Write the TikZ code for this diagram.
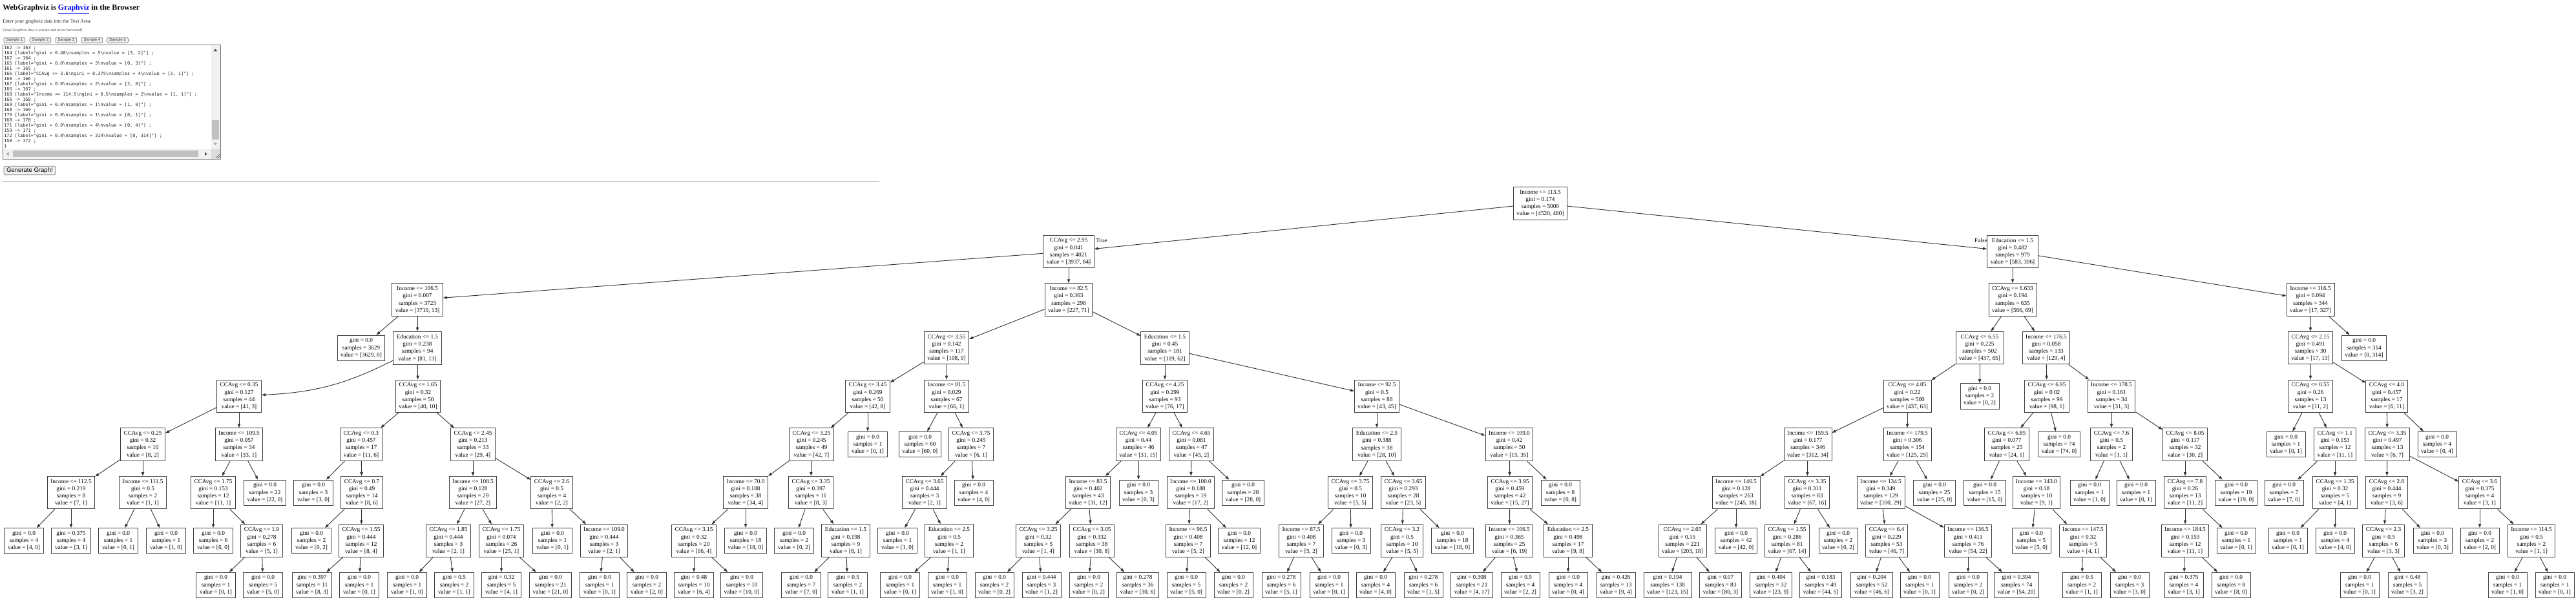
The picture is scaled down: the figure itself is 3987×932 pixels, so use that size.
\documentclass[tikz,border=0pt]{standalone}
\usepackage{fontspec}
\setmainfont{Liberation Serif}
\newfontfamily\uifont{Liberation Sans}
\newfontfamily\codefont{DejaVu Sans Mono}
\usetikzlibrary{arrows.meta}
\definecolor{linkblue}{HTML}{0000EE}
\definecolor{btnfill}{HTML}{EFEFEF}
\definecolor{btnline}{HTML}{767676}
\definecolor{track}{HTML}{F1F1F1}
\definecolor{thumb}{HTML}{C1C1C1}
\definecolor{corner}{HTML}{DCDCDC}
\definecolor{arrdark}{HTML}{505050}
\definecolor{arrlight}{HTML}{A3A3A3}
\definecolor{rulegr}{HTML}{9A9A9A}
\newcommand\treefont{\fontsize{6.58pt}{7.97pt}\selectfont}
\newcommand\bsn{\textbackslash n}
\tikzset{
  tnode/.style={draw=black!75,line width=0.7pt,fill=white,align=center,inner xsep=3.6pt,inner ysep=3.3pt,font=\treefont},
  tleaf/.style={tnode},
  tedge/.style={-{Triangle[length=4.3pt,width=3pt]},black!80,line width=0.65pt},
  elbl/.style={inner sep=0pt,font=\treefont},
  codeln/.style={anchor=base west,inner sep=0pt,black!85,font=\codefont\fontsize{4.9pt}{5.7pt}\selectfont},
  btn/.style={draw=btnline,fill=btnfill,rounded corners=1.5pt,line width=0.5pt,inner sep=0pt,text=black!80,font=\uifont\fontsize{4.3pt}{5pt}\selectfont},
  webtxt/.style={anchor=base west,inner sep=0pt},
}

\begin{document}
\begin{tikzpicture}[x=0.025cm,y=-0.025cm]
  \useasboundingbox (0,0) rectangle (3987,932);
  % page header
  \node[webtxt,font=\fontsize{8.5pt}{10pt}\selectfont\bfseries] (ttl) at (4,15.3) {WebGraphviz is \textcolor{linkblue}{\underline{Graphviz}} in the Browser};
  \node[webtxt,black!85,font=\fontsize{5.53pt}{6.5pt}\selectfont] (intro) at (4,35.5) {Enter your graphviz data into the Text Area:};
  \node[webtxt,black!70,font=\fontsize{4.24pt}{5pt}\selectfont] (note) at (4,48.9) {(Your Graphviz data is private and never harvested)};
  \node[btn,minimum width=8.2mm,minimum height=2.1mm] (s1) at (22.4,62.2) {Sample 1};
  \node[btn,minimum width=8.2mm,minimum height=2.1mm] (s2) at (62.4,62.2) {Sample 2};
  \node[btn,minimum width=8.2mm,minimum height=2.1mm] (s3) at (102.4,62.2) {Sample 3};
  \node[btn,minimum width=8.2mm,minimum height=2.1mm] (s4) at (142.4,62.2) {Sample 4};
  \node[btn,minimum width=8.2mm,minimum height=2.1mm] (s5) at (182,62.2) {Sample 5};
  \draw[btnline,line width=0.7pt,fill=white] (4,69.3) rectangle (341.7,246.7);
  \fill[track] (326.7,70) rectangle (341,230.7);
  \fill[thumb] (328.3,186) rectangle (339.3,216);
  \fill[arrdark] (330.3,79.4) -- (336.3,79.4) -- (333.3,75.7) -- cycle;
  \fill[arrlight] (330.3,221) -- (336.3,221) -- (333.3,224.7) -- cycle;
  \fill[track] (4.7,230.7) rectangle (326.7,246);
  \fill[thumb] (20,233.3) rectangle (306.7,243.3);
  \fill[arrlight] (13.5,235.3) -- (13.5,241.3) -- (10,238.3) -- cycle;
  \fill[arrdark] (317,235.3) -- (317,241.3) -- (320.5,238.3) -- cycle;
  \fill[corner] (326.7,230.7) rectangle (341,246);
  \draw[arrdark,line width=0.3pt] (334,245) -- (340,239) (337,245) -- (340,242);
  \node[codeln] (c1) at (6,76.7) {162 -> 163 ;};
  \node[codeln] (c2) at (6,84.7) {164 [label="gini = 0.48\bsn samples = 5\bsn value = [3, 2]"] ;};
  \node[codeln] (c3) at (6,92.7) {162 -> 164 ;};
  \node[codeln] (c4) at (6,100.7) {165 [label="gini = 0.0\bsn samples = 3\bsn value = [0, 3]"] ;};
  \node[codeln] (c5) at (6,108.7) {161 -> 165 ;};
  \node[codeln] (c6) at (6,116.7) {166 [label="CCAvg <= 3.6\bsn gini = 0.375\bsn samples = 4\bsn value = [3, 1]"] ;};
  \node[codeln] (c7) at (6,124.7) {160 -> 166 ;};
  \node[codeln] (c8) at (6,132.7) {167 [label="gini = 0.0\bsn samples = 2\bsn value = [2, 0]"] ;};
  \node[codeln] (c9) at (6,140.7) {166 -> 167 ;};
  \node[codeln] (c10) at (6,148.7) {168 [label="Income <= 114.5\bsn gini = 0.5\bsn samples = 2\bsn value = [1, 1]"] ;};
  \node[codeln] (c11) at (6,156.7) {166 -> 168 ;};
  \node[codeln] (c12) at (6,164.7) {169 [label="gini = 0.0\bsn samples = 1\bsn value = [1, 0]"] ;};
  \node[codeln] (c13) at (6,172.7) {168 -> 169 ;};
  \node[codeln] (c14) at (6,180.7) {170 [label="gini = 0.0\bsn samples = 1\bsn value = [0, 1]"] ;};
  \node[codeln] (c15) at (6,188.7) {168 -> 170 ;};
  \node[codeln] (c16) at (6,196.7) {171 [label="gini = 0.0\bsn samples = 4\bsn value = [0, 4]"] ;};
  \node[codeln] (c17) at (6,204.7) {159 -> 171 ;};
  \node[codeln] (c18) at (6,212.7) {172 [label="gini = 0.0\bsn samples = 314\bsn value = [0, 314]"] ;};
  \node[codeln] (c19) at (6,220.7) {150 -> 172 ;};
  \node[codeln] (c20) at (6,228.7) {\}};
  \node[btn,minimum width=19.9mm,minimum height=3.35mm,font=\uifont\fontsize{6.8pt}{8pt}\selectfont,text=black] (gen) at (45.9,264) {Generate Graph!};
  \draw[rulegr,line width=0.8pt] (4,281.7) -- (1361,281.7);
  % decision tree
  \node[tnode] (n0) at (2384,314.8) {Income <= 113.5\\gini = 0.174\\samples = 5000\\value = [4520, 480]};
  \node[tnode] (n1) at (1654,389.4) {CCAvg <= 2.95\\gini = 0.041\\samples = 4021\\value = [3937, 84]};
  \node[tnode] (n2) at (646,464.1) {Income <= 106.5\\gini = 0.007\\samples = 3723\\value = [3710, 13]};
  \node[tleaf] (n3) at (559,538.7) {gini = 0.0\\samples = 3629\\value = [3629, 0]};
  \node[tnode] (n4) at (646,538.7) {Education <= 1.5\\gini = 0.238\\samples = 94\\value = [81, 13]};
  \node[tnode] (n5) at (370,613.4) {CCAvg <= 0.35\\gini = 0.127\\samples = 44\\value = [41, 3]};
  \node[tnode] (n6) at (221,688) {CCAvg <= 0.25\\gini = 0.32\\samples = 10\\value = [8, 2]};
  \node[tnode] (n7) at (110,762.7) {Income <= 112.5\\gini = 0.219\\samples = 8\\value = [7, 1]};
  \node[tleaf] (n8) at (37,837.3) {gini = 0.0\\samples = 4\\value = [4, 0]};
  \node[tleaf] (n9) at (110,837.3) {gini = 0.375\\samples = 4\\value = [3, 1]};
  \node[tnode] (n10) at (221,762.7) {Income <= 111.5\\gini = 0.5\\samples = 2\\value = [1, 1]};
  \node[tleaf] (n11) at (183,837.3) {gini = 0.0\\samples = 1\\value = [0, 1]};
  \node[tleaf] (n12) at (257,837.3) {gini = 0.0\\samples = 1\\value = [1, 0]};
  \node[tnode] (n13) at (370,688) {Income <= 109.5\\gini = 0.057\\samples = 34\\value = [33, 1]};
  \node[tnode] (n14) at (330,762.7) {CCAvg <= 1.75\\gini = 0.153\\samples = 12\\value = [11, 1]};
  \node[tleaf] (n15) at (330,837.3) {gini = 0.0\\samples = 6\\value = [6, 0]};
  \node[tnode] (n16) at (405,837.3) {CCAvg <= 1.9\\gini = 0.278\\samples = 6\\value = [5, 1]};
  \node[tleaf] (n17) at (334,905.8) {gini = 0.0\\samples = 1\\value = [0, 1]};
  \node[tleaf] (n18) at (407,905.8) {gini = 0.0\\samples = 5\\value = [5, 0]};
  \node[tleaf] (n19) at (410,762.7) {gini = 0.0\\samples = 22\\value = [22, 0]};
  \node[tnode] (n20) at (647,613.4) {CCAvg <= 1.65\\gini = 0.32\\samples = 50\\value = [40, 10]};
  \node[tnode] (n21) at (559,688) {CCAvg <= 0.3\\gini = 0.457\\samples = 17\\value = [11, 6]};
  \node[tleaf] (n22) at (485,762.7) {gini = 0.0\\samples = 3\\value = [3, 0]};
  \node[tnode] (n23) at (560,762.7) {CCAvg <= 0.7\\gini = 0.49\\samples = 14\\value = [8, 6]};
  \node[tleaf] (n24) at (482,837.3) {gini = 0.0\\samples = 2\\value = [0, 2]};
  \node[tnode] (n25) at (559,837.3) {CCAvg <= 1.55\\gini = 0.444\\samples = 12\\value = [8, 4]};
  \node[tleaf] (n26) at (483,905.8) {gini = 0.397\\samples = 11\\value = [8, 3]};
  \node[tleaf] (n27) at (556,905.8) {gini = 0.0\\samples = 1\\value = [0, 1]};
  \node[tnode] (n28) at (732,688) {CCAvg <= 2.45\\gini = 0.213\\samples = 33\\value = [29, 4]};
  \node[tnode] (n29) at (732,762.7) {Income <= 108.5\\gini = 0.128\\samples = 29\\value = [27, 2]};
  \node[tnode] (n30) at (694,837.3) {CCAvg <= 1.85\\gini = 0.444\\samples = 3\\value = [2, 1]};
  \node[tleaf] (n31) at (630,905.8) {gini = 0.0\\samples = 1\\value = [1, 0]};
  \node[tleaf] (n32) at (703,905.8) {gini = 0.5\\samples = 2\\value = [1, 1]};
  \node[tnode] (n33) at (776,837.3) {CCAvg <= 1.75\\gini = 0.074\\samples = 26\\value = [25, 1]};
  \node[tleaf] (n34) at (776,905.8) {gini = 0.32\\samples = 5\\value = [4, 1]};
  \node[tleaf] (n35) at (852,905.8) {gini = 0.0\\samples = 21\\value = [21, 0]};
  \node[tnode] (n36) at (854,762.7) {CCAvg <= 2.6\\gini = 0.5\\samples = 4\\value = [2, 2]};
  \node[tleaf] (n37) at (855,837.3) {gini = 0.0\\samples = 1\\value = [0, 1]};
  \node[tnode] (n38) at (935,837.3) {Income <= 109.0\\gini = 0.444\\samples = 3\\value = [2, 1]};
  \node[tleaf] (n39) at (928,905.8) {gini = 0.0\\samples = 1\\value = [0, 1]};
  \node[tleaf] (n40) at (1001,905.8) {gini = 0.0\\samples = 2\\value = [2, 0]};
  \node[tnode] (n41) at (1654,464.1) {Income <= 82.5\\gini = 0.363\\samples = 298\\value = [227, 71]};
  \node[tnode] (n42) at (1465,538.7) {CCAvg <= 3.55\\gini = 0.142\\samples = 117\\value = [108, 9]};
  \node[tnode] (n43) at (1343,613.4) {CCAvg <= 3.45\\gini = 0.269\\samples = 50\\value = [42, 8]};
  \node[tnode] (n44) at (1256,688) {CCAvg <= 3.25\\gini = 0.245\\samples = 49\\value = [42, 7]};
  \node[tnode] (n45) at (1154,762.7) {Income <= 70.0\\gini = 0.188\\samples = 38\\value = [34, 4]};
  \node[tnode] (n46) at (1074,837.3) {CCAvg <= 3.15\\gini = 0.32\\samples = 20\\value = [16, 4]};
  \node[tleaf] (n47) at (1074,905.8) {gini = 0.48\\samples = 10\\value = [6, 4]};
  \node[tleaf] (n48) at (1148,905.8) {gini = 0.0\\samples = 10\\value = [10, 0]};
  \node[tleaf] (n49) at (1154,837.3) {gini = 0.0\\samples = 18\\value = [18, 0]};
  \node[tnode] (n50) at (1255,762.7) {CCAvg <= 3.35\\gini = 0.397\\samples = 11\\value = [8, 3]};
  \node[tleaf] (n51) at (1229,837.3) {gini = 0.0\\samples = 2\\value = [0, 2]};
  \node[tnode] (n52) at (1309,837.3) {Education <= 1.5\\gini = 0.198\\samples = 9\\value = [8, 1]};
  \node[tleaf] (n53) at (1240,905.8) {gini = 0.0\\samples = 7\\value = [7, 0]};
  \node[tleaf] (n54) at (1312,905.8) {gini = 0.5\\samples = 2\\value = [1, 1]};
  \node[tleaf] (n55) at (1343,688) {gini = 0.0\\samples = 1\\value = [0, 1]};
  \node[tnode] (n56) at (1465,613.4) {Income <= 81.5\\gini = 0.029\\samples = 67\\value = [66, 1]};
  \node[tleaf] (n57) at (1424,688) {gini = 0.0\\samples = 60\\value = [60, 0]};
  \node[tnode] (n58) at (1503,688) {CCAvg <= 3.75\\gini = 0.245\\samples = 7\\value = [6, 1]};
  \node[tnode] (n59) at (1431,762.7) {CCAvg <= 3.65\\gini = 0.444\\samples = 3\\value = [2, 1]};
  \node[tleaf] (n60) at (1389,837.3) {gini = 0.0\\samples = 1\\value = [1, 0]};
  \node[tnode] (n61) at (1469,837.3) {Education <= 2.5\\gini = 0.5\\samples = 2\\value = [1, 1]};
  \node[tleaf] (n62) at (1393,905.8) {gini = 0.0\\samples = 1\\value = [0, 1]};
  \node[tleaf] (n63) at (1466,905.8) {gini = 0.0\\samples = 1\\value = [1, 0]};
  \node[tleaf] (n64) at (1507,762.7) {gini = 0.0\\samples = 4\\value = [4, 0]};
  \node[tnode] (n65) at (1803,538.7) {Education <= 1.5\\gini = 0.45\\samples = 181\\value = [119, 62]};
  \node[tnode] (n66) at (1803,613.4) {CCAvg <= 4.25\\gini = 0.299\\samples = 93\\value = [76, 17]};
  \node[tnode] (n67) at (1762,688) {CCAvg <= 4.05\\gini = 0.44\\samples = 46\\value = [31, 15]};
  \node[tnode] (n68) at (1684,762.7) {Income <= 83.5\\gini = 0.402\\samples = 43\\value = [31, 12]};
  \node[tnode] (n69) at (1607,837.3) {CCAvg <= 3.25\\gini = 0.32\\samples = 5\\value = [1, 4]};
  \node[tleaf] (n70) at (1539,905.8) {gini = 0.0\\samples = 2\\value = [0, 2]};
  \node[tleaf] (n71) at (1612,905.8) {gini = 0.444\\samples = 3\\value = [1, 2]};
  \node[tnode] (n72) at (1690,837.3) {CCAvg <= 3.05\\gini = 0.332\\samples = 38\\value = [30, 8]};
  \node[tleaf] (n73) at (1685,905.8) {gini = 0.0\\samples = 2\\value = [0, 2]};
  \node[tleaf] (n74) at (1761,905.8) {gini = 0.278\\samples = 36\\value = [30, 6]};
  \node[tleaf] (n75) at (1762,762.7) {gini = 0.0\\samples = 3\\value = [0, 3]};
  \node[tnode] (n76) at (1844,688) {CCAvg <= 4.65\\gini = 0.081\\samples = 47\\value = [45, 2]};
  \node[tnode] (n77) at (1843,762.7) {Income <= 100.0\\gini = 0.188\\samples = 19\\value = [17, 2]};
  \node[tnode] (n78) at (1839,837.3) {Income <= 96.5\\gini = 0.408\\samples = 7\\value = [5, 2]};
  \node[tleaf] (n79) at (1836,905.8) {gini = 0.0\\samples = 5\\value = [5, 0]};
  \node[tleaf] (n80) at (1909,905.8) {gini = 0.0\\samples = 2\\value = [0, 2]};
  \node[tleaf] (n81) at (1918,837.3) {gini = 0.0\\samples = 12\\value = [12, 0]};
  \node[tleaf] (n82) at (1924,762.7) {gini = 0.0\\samples = 28\\value = [28, 0]};
  \node[tnode] (n83) at (2131,613.4) {Income <= 92.5\\gini = 0.5\\samples = 88\\value = [43, 45]};
  \node[tnode] (n84) at (2131,688) {Education <= 2.5\\gini = 0.388\\samples = 38\\value = [28, 10]};
  \node[tnode] (n85) at (2090,762.7) {CCAvg <= 3.75\\gini = 0.5\\samples = 10\\value = [5, 5]};
  \node[tnode] (n86) at (2014,837.3) {Income <= 87.5\\gini = 0.408\\samples = 7\\value = [5, 2]};
  \node[tleaf] (n87) at (1983,905.8) {gini = 0.278\\samples = 6\\value = [5, 1]};
  \node[tleaf] (n88) at (2057,905.8) {gini = 0.0\\samples = 1\\value = [0, 1]};
  \node[tleaf] (n89) at (2091,837.3) {gini = 0.0\\samples = 3\\value = [0, 3]};
  \node[tnode] (n90) at (2172,762.7) {CCAvg <= 3.65\\gini = 0.293\\samples = 28\\value = [23, 5]};
  \node[tnode] (n91) at (2170,837.3) {CCAvg <= 3.2\\gini = 0.5\\samples = 10\\value = [5, 5]};
  \node[tleaf] (n92) at (2129,905.8) {gini = 0.0\\samples = 4\\value = [4, 0]};
  \node[tleaf] (n93) at (2203,905.8) {gini = 0.278\\samples = 6\\value = [1, 5]};
  \node[tleaf] (n94) at (2248,837.3) {gini = 0.0\\samples = 18\\value = [18, 0]};
  \node[tnode] (n95) at (2336,688) {Income <= 109.0\\gini = 0.42\\samples = 50\\value = [15, 35]};
  \node[tnode] (n96) at (2337,762.7) {CCAvg <= 3.95\\gini = 0.459\\samples = 42\\value = [15, 27]};
  \node[tnode] (n97) at (2336,837.3) {Income <= 106.5\\gini = 0.365\\samples = 25\\value = [6, 19]};
  \node[tleaf] (n98) at (2278,905.8) {gini = 0.308\\samples = 21\\value = [4, 17]};
  \node[tleaf] (n99) at (2353,905.8) {gini = 0.5\\samples = 4\\value = [2, 2]};
  \node[tnode] (n100) at (2427,837.3) {Education <= 2.5\\gini = 0.498\\samples = 17\\value = [9, 8]};
  \node[tleaf] (n101) at (2427,905.8) {gini = 0.0\\samples = 4\\value = [0, 4]};
  \node[tleaf] (n102) at (2501,905.8) {gini = 0.426\\samples = 13\\value = [9, 4]};
  \node[tleaf] (n103) at (2415,762.7) {gini = 0.0\\samples = 8\\value = [0, 8]};
  \node[tnode] (n104) at (3115,389.4) {Education <= 1.5\\gini = 0.482\\samples = 979\\value = [583, 396]};
  \node[tnode] (n105) at (3115,464.1) {CCAvg <= 6.633\\gini = 0.194\\samples = 635\\value = [566, 69]};
  \node[tnode] (n106) at (3064,538.7) {CCAvg <= 6.55\\gini = 0.225\\samples = 502\\value = [437, 65]};
  \node[tnode] (n107) at (2952,613.4) {CCAvg <= 4.05\\gini = 0.22\\samples = 500\\value = [437, 63]};
  \node[tnode] (n108) at (2798,688) {Income <= 159.5\\gini = 0.177\\samples = 346\\value = [312, 34]};
  \node[tnode] (n109) at (2687,762.7) {Income <= 146.5\\gini = 0.128\\samples = 263\\value = [245, 18]};
  \node[tnode] (n110) at (2604,837.3) {CCAvg <= 2.65\\gini = 0.15\\samples = 221\\value = [203, 18]};
  \node[tleaf] (n111) at (2581,905.8) {gini = 0.194\\samples = 138\\value = [123, 15]};
  \node[tleaf] (n112) at (2663,905.8) {gini = 0.07\\samples = 83\\value = [80, 3]};
  \node[tleaf] (n113) at (2687,837.3) {gini = 0.0\\samples = 42\\value = [42, 0]};
  \node[tnode] (n114) at (2797,762.7) {CCAvg <= 3.35\\gini = 0.311\\samples = 83\\value = [67, 16]};
  \node[tnode] (n115) at (2766,837.3) {CCAvg <= 1.55\\gini = 0.286\\samples = 81\\value = [67, 14]};
  \node[tleaf] (n116) at (2741,905.8) {gini = 0.404\\samples = 32\\value = [23, 9]};
  \node[tleaf] (n117) at (2818,905.8) {gini = 0.183\\samples = 49\\value = [44, 5]};
  \node[tleaf] (n118) at (2845,837.3) {gini = 0.0\\samples = 2\\value = [0, 2]};
  \node[tnode] (n119) at (2952,688) {Income <= 179.5\\gini = 0.306\\samples = 154\\value = [125, 29]};
  \node[tnode] (n120) at (2911,762.7) {Income <= 134.5\\gini = 0.349\\samples = 129\\value = [100, 29]};
  \node[tnode] (n121) at (2920,837.3) {CCAvg <= 6.4\\gini = 0.229\\samples = 53\\value = [46, 7]};
  \node[tleaf] (n122) at (2897,905.8) {gini = 0.204\\samples = 52\\value = [46, 6]};
  \node[tleaf] (n123) at (2971,905.8) {gini = 0.0\\samples = 1\\value = [0, 1]};
  \node[tnode] (n124) at (3046,837.3) {Income <= 136.5\\gini = 0.411\\samples = 76\\value = [54, 22]};
  \node[tleaf] (n125) at (3046,905.8) {gini = 0.0\\samples = 2\\value = [0, 2]};
  \node[tleaf] (n126) at (3121,905.8) {gini = 0.394\\samples = 74\\value = [54, 20]};
  \node[tleaf] (n127) at (2994,762.7) {gini = 0.0\\samples = 25\\value = [25, 0]};
  \node[tleaf] (n128) at (3064,613.4) {gini = 0.0\\samples = 2\\value = [0, 2]};
  \node[tnode] (n129) at (3167,538.7) {Income <= 176.5\\gini = 0.058\\samples = 133\\value = [129, 4]};
  \node[tnode] (n130) at (3168,613.4) {CCAvg <= 6.95\\gini = 0.02\\samples = 99\\value = [98, 1]};
  \node[tnode] (n131) at (3106,688) {CCAvg <= 6.85\\gini = 0.077\\samples = 25\\value = [24, 1]};
  \node[tleaf] (n132) at (3072,762.7) {gini = 0.0\\samples = 15\\value = [15, 0]};
  \node[tnode] (n133) at (3152,762.7) {Income <= 143.0\\gini = 0.18\\samples = 10\\value = [9, 1]};
  \node[tleaf] (n134) at (3144,837.3) {gini = 0.0\\samples = 5\\value = [5, 0]};
  \node[tnode] (n135) at (3224,837.3) {Income <= 147.5\\gini = 0.32\\samples = 5\\value = [4, 1]};
  \node[tleaf] (n136) at (3222,905.8) {gini = 0.5\\samples = 2\\value = [1, 1]};
  \node[tleaf] (n137) at (3296,905.8) {gini = 0.0\\samples = 3\\value = [3, 0]};
  \node[tleaf] (n138) at (3187,688) {gini = 0.0\\samples = 74\\value = [74, 0]};
  \node[tnode] (n139) at (3268,613.4) {Income <= 178.5\\gini = 0.161\\samples = 34\\value = [31, 3]};
  \node[tnode] (n140) at (3268,688) {CCAvg <= 7.6\\gini = 0.5\\samples = 2\\value = [1, 1]};
  \node[tleaf] (n141) at (3234,762.7) {gini = 0.0\\samples = 1\\value = [1, 0]};
  \node[tleaf] (n142) at (3306,762.7) {gini = 0.0\\samples = 1\\value = [0, 1]};
  \node[tnode] (n143) at (3382,688) {CCAvg <= 8.05\\gini = 0.117\\samples = 32\\value = [30, 2]};
  \node[tnode] (n144) at (3382,762.7) {CCAvg <= 7.8\\gini = 0.26\\samples = 13\\value = [11, 2]};
  \node[tnode] (n145) at (3382,837.3) {Income <= 184.5\\gini = 0.153\\samples = 12\\value = [11, 1]};
  \node[tleaf] (n146) at (3380,905.8) {gini = 0.375\\samples = 4\\value = [3, 1]};
  \node[tleaf] (n147) at (3453,905.8) {gini = 0.0\\samples = 8\\value = [8, 0]};
  \node[tleaf] (n148) at (3461,837.3) {gini = 0.0\\samples = 1\\value = [0, 1]};
  \node[tleaf] (n149) at (3461,762.7) {gini = 0.0\\samples = 19\\value = [19, 0]};
  \node[tnode] (n150) at (3576,464.1) {Income <= 116.5\\gini = 0.094\\samples = 344\\value = [17, 327]};
  \node[tnode] (n151) at (3576,538.7) {CCAvg <= 2.15\\gini = 0.491\\samples = 30\\value = [17, 13]};
  \node[tnode] (n152) at (3576,613.4) {CCAvg <= 0.55\\gini = 0.26\\samples = 13\\value = [11, 2]};
  \node[tleaf] (n153) at (3538,688) {gini = 0.0\\samples = 1\\value = [0, 1]};
  \node[tnode] (n154) at (3614,688) {CCAvg <= 1.1\\gini = 0.153\\samples = 12\\value = [11, 1]};
  \node[tleaf] (n155) at (3535,762.7) {gini = 0.0\\samples = 7\\value = [7, 0]};
  \node[tnode] (n156) at (3614,762.7) {CCAvg <= 1.35\\gini = 0.32\\samples = 5\\value = [4, 1]};
  \node[tleaf] (n157) at (3541,837.3) {gini = 0.0\\samples = 1\\value = [0, 1]};
  \node[tleaf] (n158) at (3614,837.3) {gini = 0.0\\samples = 4\\value = [4, 0]};
  \node[tnode] (n159) at (3694,613.4) {CCAvg <= 4.0\\gini = 0.457\\samples = 17\\value = [6, 11]};
  \node[tnode] (n160) at (3695,688) {CCAvg <= 3.35\\gini = 0.497\\samples = 13\\value = [6, 7]};
  \node[tnode] (n161) at (3694,762.7) {CCAvg <= 2.8\\gini = 0.444\\samples = 9\\value = [3, 6]};
  \node[tnode] (n162) at (3689,837.3) {CCAvg <= 2.3\\gini = 0.5\\samples = 6\\value = [3, 3]};
  \node[tleaf] (n163) at (3652,905.8) {gini = 0.0\\samples = 1\\value = [0, 1]};
  \node[tleaf] (n164) at (3726,905.8) {gini = 0.48\\samples = 5\\value = [3, 2]};
  \node[tleaf] (n165) at (3765,837.3) {gini = 0.0\\samples = 3\\value = [0, 3]};
  \node[tnode] (n166) at (3838,762.7) {CCAvg <= 3.6\\gini = 0.375\\samples = 4\\value = [3, 1]};
  \node[tleaf] (n167) at (3838,837.3) {gini = 0.0\\samples = 2\\value = [2, 0]};
  \node[tnode] (n168) at (3918,837.3) {Income <= 114.5\\gini = 0.5\\samples = 2\\value = [1, 1]};
  \node[tleaf] (n169) at (3881,905.8) {gini = 0.0\\samples = 1\\value = [1, 0]};
  \node[tleaf] (n170) at (3954,905.8) {gini = 0.0\\samples = 1\\value = [0, 1]};
  \node[tleaf] (n171) at (3772,688) {gini = 0.0\\samples = 4\\value = [0, 4]};
  \node[tleaf] (n172) at (3659,538.7) {gini = 0.0\\samples = 314\\value = [0, 314]};
  \node[elbl,anchor=base west] (ltrue) at (1696,375) {True};
  \node[elbl,anchor=base east] (lfalse) at (3076,375) {False};
  \draw[tedge] (n0)--(n1); \draw[tedge] (n0)--(n104);
  \draw[tedge] (n1)--(n2); \draw[tedge] (n1)--(n41);
  \draw[tedge] (n2)--(n3); \draw[tedge] (n2)--(n4);
  \draw[tedge] (n4) to[bend left=12] (n5); \draw[tedge] (n4)--(n20);
  \draw[tedge] (n5)--(n6); \draw[tedge] (n5)--(n13);
  \draw[tedge] (n6)--(n7); \draw[tedge] (n6)--(n10);
  \draw[tedge] (n7)--(n8); \draw[tedge] (n7)--(n9);
  \draw[tedge] (n10)--(n11); \draw[tedge] (n10)--(n12);
  \draw[tedge] (n13)--(n14); \draw[tedge] (n13)--(n19);
  \draw[tedge] (n14)--(n15); \draw[tedge] (n14)--(n16);
  \draw[tedge] (n16)--(n17); \draw[tedge] (n16)--(n18);
  \draw[tedge] (n20)--(n21); \draw[tedge] (n20)--(n28);
  \draw[tedge] (n21)--(n22); \draw[tedge] (n21)--(n23);
  \draw[tedge] (n23)--(n24); \draw[tedge] (n23)--(n25);
  \draw[tedge] (n25)--(n26); \draw[tedge] (n25)--(n27);
  \draw[tedge] (n28)--(n29); \draw[tedge] (n28)--(n36);
  \draw[tedge] (n29)--(n30); \draw[tedge] (n29)--(n33);
  \draw[tedge] (n30)--(n31); \draw[tedge] (n30)--(n32);
  \draw[tedge] (n33)--(n34); \draw[tedge] (n33)--(n35);
  \draw[tedge] (n36)--(n37); \draw[tedge] (n36)--(n38);
  \draw[tedge] (n38)--(n39); \draw[tedge] (n38)--(n40);
  \draw[tedge] (n41)--(n42); \draw[tedge] (n41)--(n65);
  \draw[tedge] (n42)--(n43); \draw[tedge] (n42)--(n56);
  \draw[tedge] (n43)--(n44); \draw[tedge] (n43)--(n55);
  \draw[tedge] (n44)--(n45); \draw[tedge] (n44)--(n50);
  \draw[tedge] (n45)--(n46); \draw[tedge] (n45)--(n49);
  \draw[tedge] (n46)--(n47); \draw[tedge] (n46)--(n48);
  \draw[tedge] (n50)--(n51); \draw[tedge] (n50)--(n52);
  \draw[tedge] (n52)--(n53); \draw[tedge] (n52)--(n54);
  \draw[tedge] (n56)--(n57); \draw[tedge] (n56)--(n58);
  \draw[tedge] (n58)--(n59); \draw[tedge] (n58)--(n64);
  \draw[tedge] (n59)--(n60); \draw[tedge] (n59)--(n61);
  \draw[tedge] (n61)--(n62); \draw[tedge] (n61)--(n63);
  \draw[tedge] (n65)--(n66); \draw[tedge] (n65)--(n83);
  \draw[tedge] (n66)--(n67); \draw[tedge] (n66)--(n76);
  \draw[tedge] (n67)--(n68); \draw[tedge] (n67)--(n75);
  \draw[tedge] (n68)--(n69); \draw[tedge] (n68)--(n72);
  \draw[tedge] (n69)--(n70); \draw[tedge] (n69)--(n71);
  \draw[tedge] (n72)--(n73); \draw[tedge] (n72)--(n74);
  \draw[tedge] (n76)--(n77); \draw[tedge] (n76)--(n82);
  \draw[tedge] (n77)--(n78); \draw[tedge] (n77)--(n81);
  \draw[tedge] (n78)--(n79); \draw[tedge] (n78)--(n80);
  \draw[tedge] (n83)--(n84); \draw[tedge] (n83)--(n95);
  \draw[tedge] (n84)--(n85); \draw[tedge] (n84)--(n90);
  \draw[tedge] (n85)--(n86); \draw[tedge] (n85)--(n89);
  \draw[tedge] (n86)--(n87); \draw[tedge] (n86)--(n88);
  \draw[tedge] (n90)--(n91); \draw[tedge] (n90)--(n94);
  \draw[tedge] (n91)--(n92); \draw[tedge] (n91)--(n93);
  \draw[tedge] (n95)--(n96); \draw[tedge] (n95)--(n103);
  \draw[tedge] (n96)--(n97); \draw[tedge] (n96)--(n100);
  \draw[tedge] (n97)--(n98); \draw[tedge] (n97)--(n99);
  \draw[tedge] (n100)--(n101); \draw[tedge] (n100)--(n102);
  \draw[tedge] (n104)--(n105); \draw[tedge] (n104)--(n150);
  \draw[tedge] (n105)--(n106); \draw[tedge] (n105)--(n129);
  \draw[tedge] (n106)--(n107); \draw[tedge] (n106)--(n128);
  \draw[tedge] (n107)--(n108); \draw[tedge] (n107)--(n119);
  \draw[tedge] (n108)--(n109); \draw[tedge] (n108)--(n114);
  \draw[tedge] (n109)--(n110); \draw[tedge] (n109)--(n113);
  \draw[tedge] (n110)--(n111); \draw[tedge] (n110)--(n112);
  \draw[tedge] (n114)--(n115); \draw[tedge] (n114)--(n118);
  \draw[tedge] (n115)--(n116); \draw[tedge] (n115)--(n117);
  \draw[tedge] (n119)--(n120); \draw[tedge] (n119)--(n127);
  \draw[tedge] (n120)--(n121); \draw[tedge] (n120)--(n124);
  \draw[tedge] (n121)--(n122); \draw[tedge] (n121)--(n123);
  \draw[tedge] (n124)--(n125); \draw[tedge] (n124)--(n126);
  \draw[tedge] (n129)--(n130); \draw[tedge] (n129)--(n139);
  \draw[tedge] (n130)--(n131); \draw[tedge] (n130)--(n138);
  \draw[tedge] (n131)--(n132); \draw[tedge] (n131)--(n133);
  \draw[tedge] (n133)--(n134); \draw[tedge] (n133)--(n135);
  \draw[tedge] (n135)--(n136); \draw[tedge] (n135)--(n137);
  \draw[tedge] (n139)--(n140); \draw[tedge] (n139)--(n143);
  \draw[tedge] (n140)--(n141); \draw[tedge] (n140)--(n142);
  \draw[tedge] (n143)--(n144); \draw[tedge] (n143)--(n149);
  \draw[tedge] (n144)--(n145); \draw[tedge] (n144)--(n148);
  \draw[tedge] (n145)--(n146); \draw[tedge] (n145)--(n147);
  \draw[tedge] (n150)--(n151); \draw[tedge] (n150)--(n172);
  \draw[tedge] (n151)--(n152); \draw[tedge] (n151)--(n159);
  \draw[tedge] (n152)--(n153); \draw[tedge] (n152)--(n154);
  \draw[tedge] (n154)--(n155); \draw[tedge] (n154)--(n156);
  \draw[tedge] (n156)--(n157); \draw[tedge] (n156)--(n158);
  \draw[tedge] (n159)--(n160); \draw[tedge] (n159)--(n171);
  \draw[tedge] (n160)--(n161); \draw[tedge] (n160)--(n166);
  \draw[tedge] (n161)--(n162); \draw[tedge] (n161)--(n165);
  \draw[tedge] (n162)--(n163); \draw[tedge] (n162)--(n164);
  \draw[tedge] (n166)--(n167); \draw[tedge] (n166)--(n168);
  \draw[tedge] (n168)--(n169); \draw[tedge] (n168)--(n170);
\end{tikzpicture}
\end{document}
